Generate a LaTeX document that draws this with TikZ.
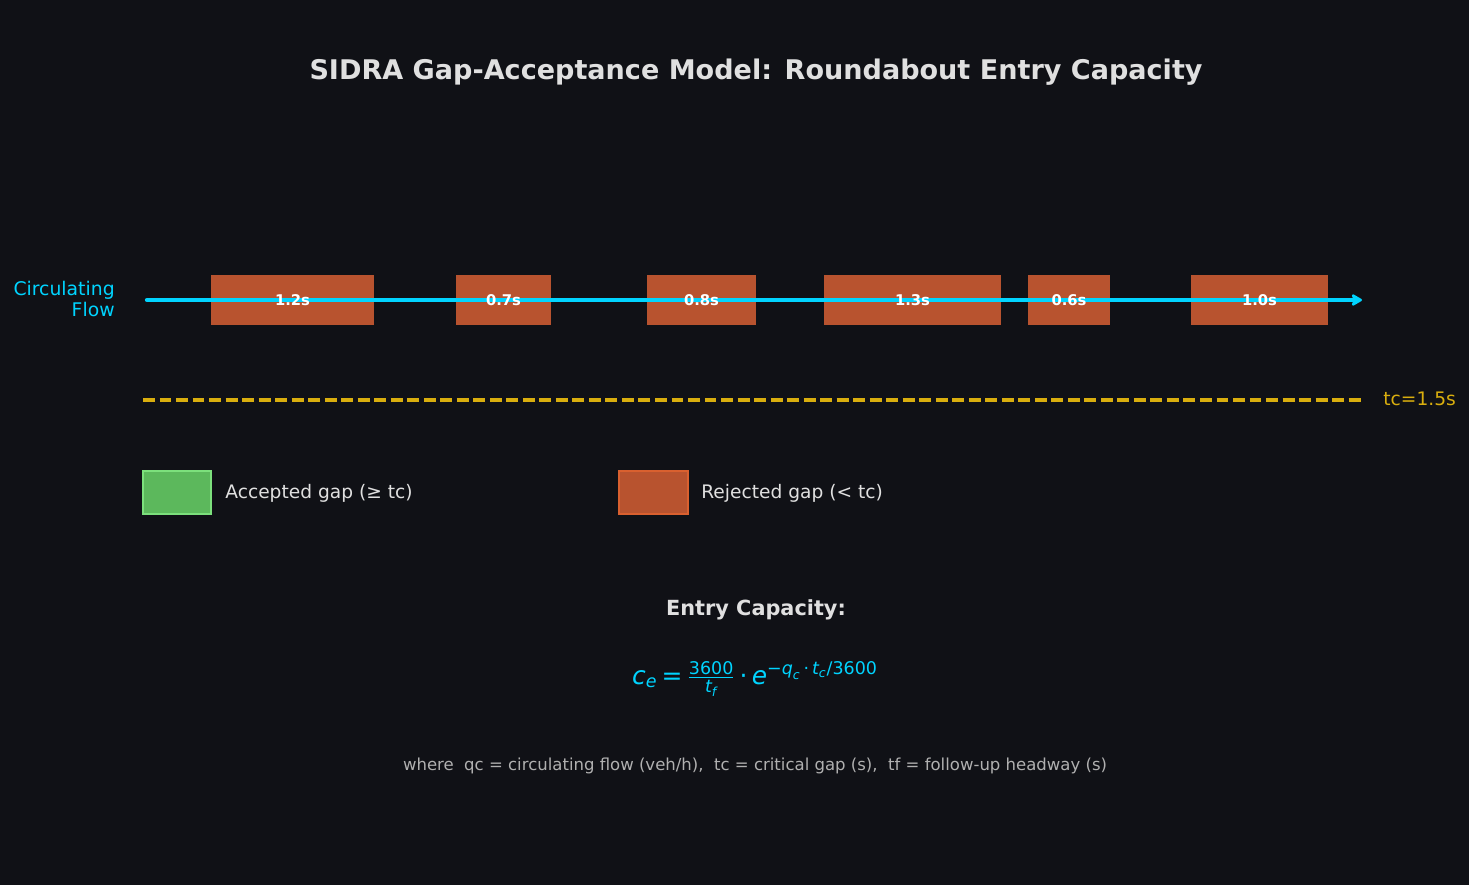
\documentclass[tikz,border=0pt]{standalone}
\usepackage{fontspec}
\usepackage{amsmath}
\setmainfont{DejaVu Sans}
\usetikzlibrary{arrows.meta}

\definecolor{bgdark}{HTML}{101116}
\definecolor{gapred}{HTML}{B8532F}
\definecolor{gapredline}{HTML}{D9602F}
\definecolor{gapgreen}{HTML}{5CB85C}
\definecolor{gapgreenline}{HTML}{7CE07C}
\definecolor{flowcyan}{HTML}{00D4FF}
\definecolor{tcgold}{HTML}{D9AE0E}
\definecolor{lighttext}{HTML}{E0E0E0}
\definecolor{greytext}{HTML}{B0B0B0}

\begin{document}
\begin{tikzpicture}[x=0.02cm, y=-0.02cm,
    gapbox/.style={fill=gapred},
    gaplabel/.style={anchor=base, text=white, font=\fontsize{8.4}{10}\selectfont\bfseries},
    legendtext/.style={anchor=base west, inner sep=0pt, text=lighttext, font=\fontsize{10.6}{13}\selectfont}]
  % Hintergrund
  \fill[bgdark] (0,0) rectangle (1469,885);
  \useasboundingbox (0,0) rectangle (1469,885);

  % Titel
  \node[anchor=base, text=lighttext, font=\fontsize{15.4}{18}\selectfont\bfseries] (title) at (756,80)
    {SIDRA Gap-Acceptance Model: Roundabout Entry Capacity};

  % Abgelehnte Luecken
  \foreach \xa/\xb/\lab/\nm in {211/374/1.2s/ga, 456/551/0.7s/gb, 647/756/0.8s/gc,
                                824/1001/1.3s/gd, 1028/1110/0.6s/ge, 1191/1328/1.0s/gf}
    \fill[gapbox] (\xa,275) rectangle (\xb,325);

  % Kreisverkehrsstrom
  \coordinate (flowstart) at (147,300);
  \coordinate (flowend) at (1362,300);
  \draw[flowcyan, line width=2.4pt, line cap=round,
        -{Stealth[length=7pt, width=8pt, inset=1.5pt, round]}] (flowstart) -- (flowend);
  \node[anchor=east, align=right, inner sep=0pt, text=flowcyan, font=\fontsize{10.7}{12.4}\selectfont] (flowlabel)
    at (115,299) {Circulating\\Flow};

  % Beschriftung der Luecken
  \foreach \xa/\xb/\lab/\nm in {211/374/1.2s/ga, 456/551/0.7s/gb, 647/756/0.8s/gc,
                                824/1001/1.3s/gd, 1028/1110/0.6s/ge, 1191/1328/1.0s/gf}
    \node[gaplabel] (\nm) at ({(\xa+\xb)/2},305) {\lab};

  % Grenzwert tc
  \coordinate (tcstart) at (143,400);
  \coordinate (tcend) at (1362,400);
  \draw[tcgold, line width=2.2pt, dash pattern=on 6.8pt off 2.6pt] (tcstart) -- (tcend);
  \node[anchor=base west, inner sep=0pt, text=tcgold, font=\fontsize{10.6}{13}\selectfont] (tclabel)
    at (1383,405) {tc=1.5s};

  % Legende
  \filldraw[fill=gapgreen, draw=gapgreenline, line width=0.8pt] (143,471) rectangle (211,514);
  \node[legendtext] (acclabel) at (225,498) {Accepted gap (≥ tc)};
  \filldraw[fill=gapred, draw=gapredline, line width=0.8pt] (619,471) rectangle (688,514);
  \node[legendtext] (rejlabel) at (701,498) {Rejected gap (< tc)};

  % Kapazitaetsformel
  \node[anchor=base, text=lighttext, font=\fontsize{11.85}{14}\selectfont\bfseries] (capheading)
    at (756,615) {Entry Capacity:};
  \node[anchor=base, text=flowcyan, font=\fontsize{14.2}{17}\selectfont] (formula) at (755,684)
    {$\textit{c}_{\textit{e}}\,\text{=}\,\frac{\text{3600}}{\textit{t}_{\textit{f}}}
      \,\text{·}\,\textit{e}^{\text{−}\textit{q}_{\textit{c}}\,\text{·}\,\textit{t}_{\textit{c}}\text{/3600}}$};
  \node[anchor=base, text=greytext, font=\fontsize{9.4}{12}\selectfont] (legendnote) at (755,770)
    {where\ \ qc = circulating flow (veh/h),\ \ tc = critical gap (s),\ \ tf = follow-up headway (s)};
\end{tikzpicture}
\end{document}
